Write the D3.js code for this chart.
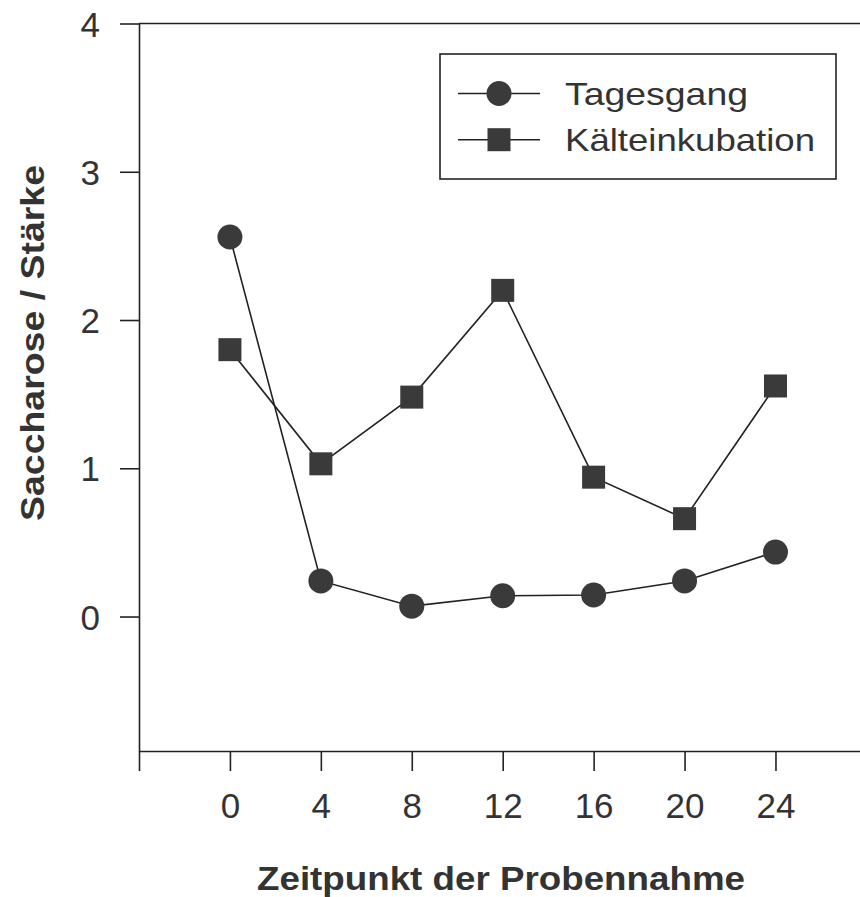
<!DOCTYPE html>
<html>
<head>
<meta charset="utf-8">
<script src="https://cdn.jsdelivr.net/npm/d3@7"></script>
<style>
  html, body { margin: 0; padding: 0; background: #fff; }
  svg { display: block; }
  text { font-family: "Liberation Sans", Arial, sans-serif; fill: #333; }
</style>
</head>
<body>
<svg id="chart" width="860" height="897"></svg>
<script>
// Sampling times (h) and ratio of sucrose to starch
const times = [0, 4, 8, 12, 16, 20, 24];
const tagesgang = [2.56, 0.24, 0.07, 0.14, 0.145, 0.24, 0.435];
const kaelteinkubation = [1.80, 1.03, 1.48, 2.20, 0.94, 0.66, 1.555];

const xTicks = [-4, 0, 4, 8, 12, 16, 20, 24, 28];
const xTickLabels = ["", "0", "4", "8", "12", "16", "20", "24", ""];
const yTicks = [0, 1, 2, 3, 4];
const yTickLabels = ["0", "1", "2", "3", "4"];

const seriesNames = ["Tagesgang", "Kälteinkubation"];
const xTitle = "Zeitpunkt der Probennahme";
const yTitle = "Saccharose / Stärke";

const svg = d3.select("#chart");
const ink = "#3a3a3a";

const x = d3.scaleLinear().domain([-4, 28]).range([139, 866.4]);
const y = d3.scaleLinear().domain([-0.907, 4]).range([751, 23.5]);

// Axes
const xAxis = d3.axisBottom(x)
  .tickValues(xTicks)
  .tickFormat((d, i) => xTickLabels[i])
  .tickSize(20).tickSizeOuter(0).tickPadding(22);
const gx = svg.append("g").attr("transform", `translate(0,${y(-0.907)})`).call(xAxis);

const yAxis = d3.axisLeft(y)
  .tickValues(yTicks)
  .tickFormat((d, i) => yTickLabels[i])
  .tickSize(19).tickSizeOuter(0).tickPadding(20);
const gy = svg.append("g").attr("transform", `translate(${x(-4)},0)`).call(yAxis);

[gx, gy].forEach(g => {
  g.selectAll("path.domain").attr("stroke", "#222").attr("stroke-width", 1.6);
  g.selectAll(".tick line").attr("stroke", "#222").attr("stroke-width", 1.6);
  g.selectAll(".tick text").attr("font-size", 35).attr("fill", "#333")
    .style("font-family", '"Liberation Sans", Arial, sans-serif');
});
gx.selectAll(".tick text").attr("dy", "0.71em");
gy.selectAll(".tick text").attr("dy", "0.36em");

// Top frame line
svg.append("line")
  .attr("x1", x(-4)).attr("x2", x(28))
  .attr("y1", y(4)).attr("y2", y(4))
  .attr("stroke", "#222").attr("stroke-width", 1.6);

// Series
const line = d3.line().x(d => x(d[0])).y(d => y(d[1]));
const ptsT = times.map((t, i) => [t, tagesgang[i]]);
const ptsK = times.map((t, i) => [t, kaelteinkubation[i]]);

svg.append("path").attr("d", line(ptsK)).attr("fill", "none")
  .attr("stroke", "#222").attr("stroke-width", 1.6);
svg.append("path").attr("d", line(ptsT)).attr("fill", "none")
  .attr("stroke", "#222").attr("stroke-width", 1.6);

const sq = 23, r = 12.5;
svg.selectAll("rect.k").data(ptsK).join("rect").attr("class", "k")
  .attr("x", d => x(d[0]) - sq / 2).attr("y", d => y(d[1]) - sq / 2)
  .attr("width", sq).attr("height", sq).attr("fill", ink);
svg.selectAll("circle.t").data(ptsT).join("circle").attr("class", "t")
  .attr("cx", d => x(d[0])).attr("cy", d => y(d[1])).attr("r", r).attr("fill", ink);

// Legend
const lg = svg.append("g");
lg.append("rect").attr("x", 440).attr("y", 54).attr("width", 396).attr("height", 125)
  .attr("fill", "#fff").attr("stroke", "#222").attr("stroke-width", 1.6);
const rows = [93.5, 139.7];
const textWidths = [183, 250];
rows.forEach((ry, i) => {
  lg.append("line").attr("x1", 458).attr("x2", 540).attr("y1", ry).attr("y2", ry)
    .attr("stroke", "#222").attr("stroke-width", 1.6);
  if (i === 0) {
    lg.append("circle").attr("cx", 499).attr("cy", ry).attr("r", r).attr("fill", ink);
  } else {
    lg.append("rect").attr("x", 499 - sq / 2).attr("y", ry - sq / 2)
      .attr("width", sq).attr("height", sq).attr("fill", ink);
  }
  lg.append("text").attr("x", 565).attr("y", ry + 11.5)
    .attr("font-size", 32)
    .attr("textLength", textWidths[i]).attr("lengthAdjust", "spacingAndGlyphs")
    .text(seriesNames[i]);
});

// Axis titles
svg.append("text")
  .attr("x", 257).attr("y", 890)
  .attr("font-size", 33).attr("font-weight", "bold")
  .attr("textLength", 488).attr("lengthAdjust", "spacingAndGlyphs")
  .text(xTitle);

svg.append("text")
  .attr("transform", "translate(44,521) rotate(-90)")
  .attr("font-size", 33).attr("font-weight", "bold")
  .attr("textLength", 356).attr("lengthAdjust", "spacingAndGlyphs")
  .text(yTitle);
</script>
</body>
</html>
